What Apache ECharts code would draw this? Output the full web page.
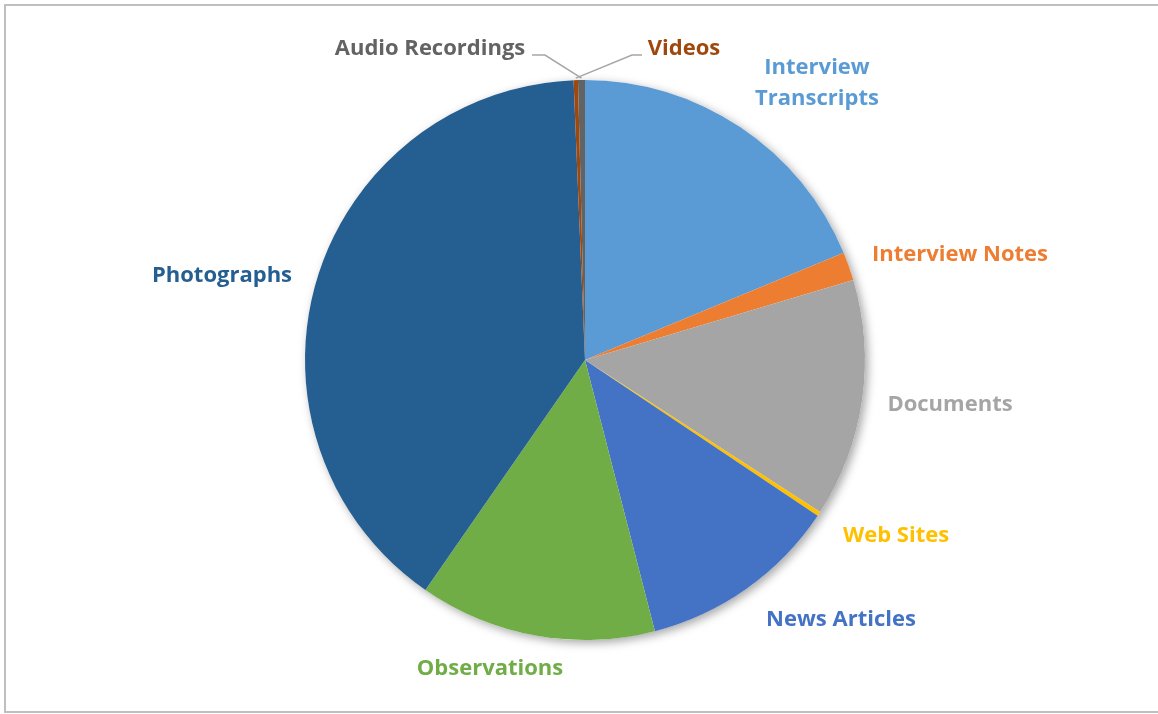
<!DOCTYPE html>
<html>
<head>
<meta charset="utf-8">
<script src="https://cdn.jsdelivr.net/npm/echarts@6/dist/echarts.min.js"></script>
<style>
html,body{margin:0;padding:0;background:#fff;}
#chart{width:1158px;height:714px;}
</style>
</head>
<body>
<div id="chart"></div>
<script>
// ---- data ----
const categories = ["Interview\nTranscripts", "Interview Notes", "Documents", "Web Sites", "News Articles", "Observations", "Photographs", "Videos", "Audio Recordings"];
const values = [18.75, 1.64, 13.75, 0.25, 11.6, 13.67, 39.7, 0.25, 0.4];
const colors = ["#5B9BD5", "#ED7D31", "#A5A5A5", "#FFC000", "#4472C4", "#70AD47", "#255E91", "#9E480E", "#636363"];

// ---- label placement (style) ----
const labelPos = {
  "Interview\nTranscripts": [817, 83],
  "Interview Notes": [960, 255],
  "Documents": [950, 405],
  "Web Sites": [896, 536],
  "News Articles": [841, 620],
  "Observations": [490, 669],
  "Photographs": [222, 276],
  "Videos": [684, 49],
  "Audio Recordings": [430, 49]
};
const leaderBends = {
  "Videos": [[642, 55], [632, 55]],
  "Audio Recordings": [[532, 55], [545, 55]]
};

const chart = echarts.init(document.getElementById('chart'));
chart.setOption({
  animation: false,
  backgroundColor: '#fff',
  graphic: [{
    type: 'rect', silent: true, z: -10,
    shape: {x: 5, y: 5, width: 1170, height: 707},
    style: {fill: 'none', stroke: '#BFBFBF', lineWidth: 2}
  }],
  series: [
    {
      type: 'pie', silent: true, z: 1,
      center: [585, 360], radius: 280,
      label: {show: false}, labelLine: {show: false},
      itemStyle: {color: '#fff', shadowBlur: 10, shadowColor: 'rgba(0,0,0,0.35)', shadowOffsetX: 3, shadowOffsetY: 3},
      data: [{value: 1, name: 'bg'}]
    },
    {
      type: 'pie', z: 2,
      center: [585, 360], radius: 280,
      startAngle: 90, clockwise: true,
      avoidLabelOverlap: false,
      itemStyle: {borderWidth: 0},
      label: {
        show: true, position: 'outside',
        fontFamily: 'Open Sans', fontWeight: 'bold', fontSize: 22, lineHeight: 31,
        formatter: '{b}'
      },
      labelLine: {show: false, lineStyle: {color: '#A6A6A6', width: 1.5}},
      labelLayout: function (params) {
        const name = categories[params.dataIndex];
        const p = labelPos[name];
        const res = {x: p[0], y: p[1], align: 'center', verticalAlign: 'middle'};
        if (leaderBends[name] && params.labelLinePoints) {
          const a = params.labelLinePoints[0];
          res.labelLinePoints = [leaderBends[name][0], leaderBends[name][1], [a[0], a[1] - 2]];
        }
        return res;
      },
      data: categories.map((c, i) => ({
        name: c, value: values[i],
        itemStyle: {color: colors[i]},
        label: {color: colors[i]},
        labelLine: {show: !!leaderBends[c]}
      }))
    }
  ]
});
</script>
</body>
</html>
